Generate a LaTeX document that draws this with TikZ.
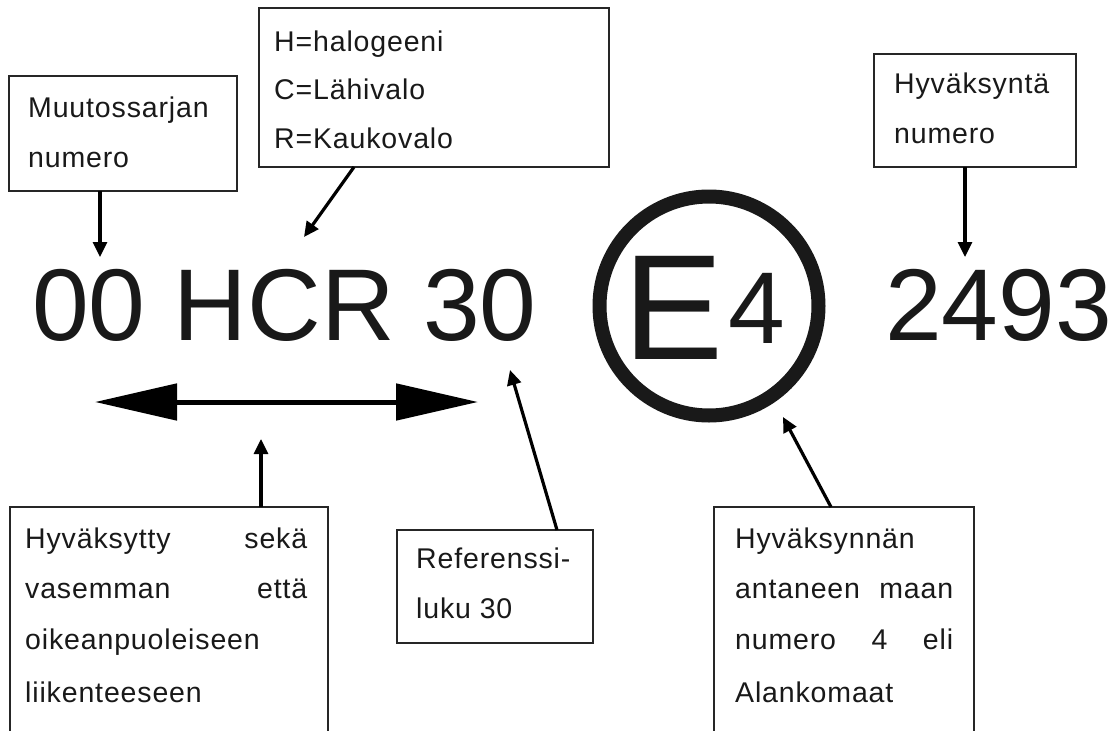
\documentclass[tikz,border=0pt]{standalone}
\usepackage{fontspec}
\setmainfont{Liberation Sans}
\newfontfamily\lblfont[LetterSpace=3]{Liberation Sans}
\usetikzlibrary{arrows.meta}
\begin{document}
\begin{tikzpicture}[x=1pt,y=-1pt,
  box/.style={draw=black!85, line width=2pt, anchor=north west, inner sep=0pt, outer sep=0pt},
  lbl/.style={anchor=base west, inner sep=0pt, font=\lblfont\fontsize{28.5}{30}\selectfont, text=black!90},
  conn/.style={line width=3.2pt, -{Triangle[length=15pt,width=14pt]}},
  big/.style={anchor=base west, inner sep=0pt, font=\fontsize{102}{102}\selectfont, text=black!90},
]
\clip (0,0) rectangle (1117,731);
\fill[white] (0,0) rectangle (1117,731);

% boxes
\node[box, minimum width=228pt, minimum height=115pt] (b1) at (9,76) {};
\node[box, minimum width=350pt, minimum height=159pt] (b2) at (259,8) {};
\node[box, minimum width=202pt, minimum height=113pt] (b3) at (874,54) {};
\node[box, minimum width=318pt, minimum height=260pt] (b4) at (10,507) {};
\node[box, minimum width=196pt, minimum height=113pt] (b5) at (397,530) {};
\node[box, minimum width=260pt, minimum height=260pt] (b6) at (714,507) {};

% box texts
\node[lbl] (l1a) at (28,117) {Muutossarjan};
\node[lbl] (l1b) at (28,167) {numero};
\node[lbl] (l2a) at (274,51) {H=halogeeni};
\node[lbl] (l2b) at (274,99) {C=Lähivalo};
\node[lbl] (l2c) at (274,148) {R=Kaukovalo};
\node[lbl] (l3a) at (894,93) {Hyväksyntä};
\node[lbl] (l3b) at (894,143) {numero};
\node[lbl] (l4a) at (25,548) {\makebox[282pt][s]{Hyväksytty\hfill sekä}};
\node[lbl] (l4b) at (25,598) {\makebox[282pt][s]{vasemman\hfill että}};
\node[lbl] (l4c) at (25,649) {oikeanpuoleiseen};
\node[lbl] (l4d) at (25,702) {liikenteeseen};
\node[lbl] (l5a) at (416,568) {Referenssi-};
\node[lbl] (l5b) at (416,618) {luku 30};
\node[lbl] (l6a) at (735,548) {Hyväksynnän};
\node[lbl] (l6b) at (735,598) {\makebox[218pt][s]{antaneen\hfill maan}};
\node[lbl] (l6c) at (735,649) {\makebox[218pt][s]{numero\hfill 4\hfill eli}};
\node[lbl] (l6d) at (735,702) {Alankomaat};

% big marking
\node[big] (code) at (32,340) {00 HCR 30};
\node[big] (num) at (885,340) {2493};
\node[draw=black!90, circle, line width=14pt, minimum size=219pt, inner sep=0pt] (ring) at (709,306) {};
\node[anchor=base west, inner sep=0pt, font=\fontsize{150}{150}\selectfont, text=black!90] (E) at (623,359) {E};
\node[big] (four) at (728,343) {4};

% coordinates
\coordinate (t1) at (100,257);
\coordinate (s2) at (354,0);
\coordinate (t2) at (304,237);
\coordinate (t3) at (965,257);
\coordinate (t4) at (261,439);
\coordinate (s5) at (557,0);
\coordinate (t5) at (510,370);
\coordinate (s6) at (831,0);
\coordinate (t6) at (783,417);
\coordinate (da1) at (95,402);
\coordinate (da2) at (478,402);

% connectors
\draw[conn] (b1.south -| t1) -- (t1);
\draw[conn] (b2.south -| s2) -- (t2);
\draw[conn] (b3.south -| t3) -- (t3);
\draw[conn] (b4.north -| t4) -- (t4);
\draw[conn] (b5.north -| s5) -- (t5);
\draw[conn] (b6.north -| s6) -- (t6);
\draw[line width=5pt, {Triangle[length=82pt,width=36pt]}-{Triangle[length=82pt,width=36pt]}] (da1) -- (da2);
\end{tikzpicture}
\end{document}
